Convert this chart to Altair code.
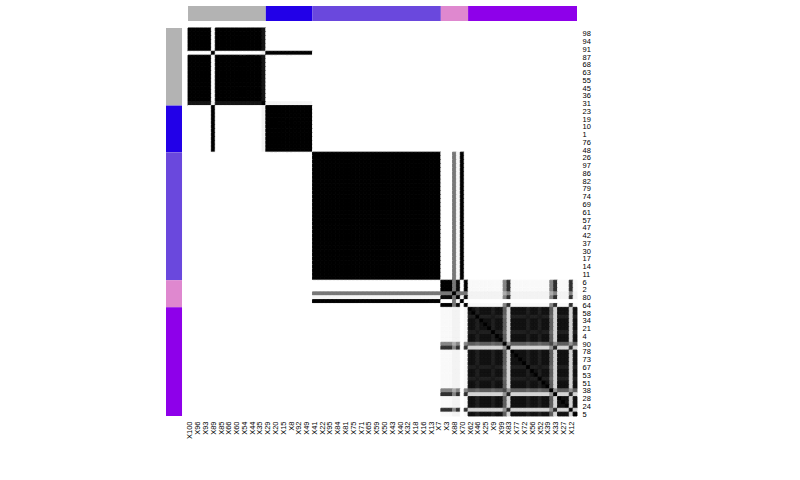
import json
import altair as alt
import pandas as pd

# variable order (rows top->bottom, columns left->right)
order = [100, 98, 96, 94, 93, 91, 89, 87, 85, 68, 66, 63, 60, 55, 54, 45, 44, 36, 35, 31,
         29, 23, 20, 19, 15, 10, 8, 1, 92, 76, 49, 48,
         41, 26, 22, 97, 95, 86, 84, 82, 81, 79, 75, 74, 71, 69, 65, 61, 59, 57, 50, 47,
         43, 42, 40, 37, 32, 30, 18, 17, 16, 14, 13, 11, 7,
         6, 3, 2, 88, 80, 70, 64,
         62, 58, 46, 34, 25, 21, 9, 4, 99, 90, 83, 78, 77, 73, 72, 67, 56, 53, 52, 51,
         39, 38, 33, 28, 27, 24, 12, 5]

# annotation groups (bars on top and left)
group_sizes = [20, 12, 33, 7, 28]
group_colors = ["#b3b3b3", "#2200e8", "#6a48dd", "#df88cf", "#8e00ea"]

# similarity structure type of each variable, in display order
types = (["G"] * 6 + ["B"] + ["G"] * 12 + ["G2"] + ["B"] * 12 + ["P"] * 33
         + ["Q", "Q", "Q", "Q8", "Q9", "P", "Q"]
         + ["V", "V", "Vw", "V", "V", "V", "Vw", "V", "V", "VG", "VX", "V", "V", "V",
            "V", "Vw", "V", "V", "Vw", "V", "V", "VG", "VX", "V", "V", "V", "VX", "V"])

# similarity for pairs of types (off-diagonal cells)
pair_values = {
    ("G", "G"): 1.0, ("G", "G2"): 0.93, ("B", "G2"): 0.04, ("B", "B"): 1.0,
    ("P", "P"): 1.0, ("P", "Q8"): 0.5, ("P", "Q9"): 0.03,
    ("Q", "Q"): 1.0, ("Q", "Q9"): 0.97, ("Q", "Q8"): 0.5, ("Q8", "Q9"): 0.5,
    ("Q", "V"): 0.02, ("Q9", "V"): 0.04, ("Q8", "V"): 0.04,
    ("Q", "Vw"): 0.02, ("Q9", "Vw"): 0.04, ("Q8", "Vw"): 0.04,
    ("Q", "VG"): 0.45, ("Q9", "VG"): 0.45, ("Q8", "VG"): 0.3,
    ("Q", "VX"): 0.8, ("Q9", "VX"): 0.8, ("Q8", "VX"): 0.45,
    ("V", "V"): 0.95, ("V", "Vw"): 0.88, ("Vw", "Vw"): 0.92,
    ("V", "VG"): 0.6, ("Vw", "VG"): 0.55, ("VG", "VG"): 0.7,
    ("V", "VX"): 0.15, ("Vw", "VX"): 0.15, ("VG", "VX"): 0.4, ("VX", "VX"): 0.85,
}

n = len(order)
rows = []
for i in range(n):
    for j in range(n):
        if i == j:
            v = 1.0
        else:
            a, b = types[i], types[j]
            v = pair_values.get((a, b), pair_values.get((b, a), 0.0))
        rows.append({"c": j, "c2": j + 1, "r": i, "r2": i + 1, "v": v})
cells = pd.DataFrame(rows)

bars = []
start = 0
for size, col in zip(group_sizes, group_colors):
    bars.append({"s": start, "e": start + size, "color": col})
    start += size
bars = pd.DataFrame(bars)

LO = -5.66
BAR_END_ROW = -1.54
BAR_END_COL = -1.8
dom = [LO, 100]

col_labels = ["X%d" % k for k in order]
row_labels = ["%d" % k for k in order]

xscale = alt.Scale(domain=dom, nice=False, zero=False)
yscale = alt.Scale(domain=dom, nice=False, zero=False, reverse=True)

xaxis = alt.Axis(
    orient="bottom", title=None, values=[k + 0.5 for k in range(0, n, 2)],
    labelExpr=json.dumps(col_labels) + "[floor(datum.value)]",
    labelAngle=270, labelPadding=5, labelOverlap=False, labelFlush=False,
    labelBound=False, tickCount=50,
    domain=False, ticks=False, grid=False)
yaxis = alt.Axis(
    orient="right", title=None, values=[k + 0.5 for k in range(1, n, 2)],
    labelExpr=json.dumps(row_labels) + "[floor(datum.value)]",
    labelPadding=5, labelOverlap=False, labelFlush=False,
    labelBound=False, tickCount=50,
    domain=False, ticks=False, grid=False)

gray = alt.Scale(domain=[0, 1], range=["#ffffff", "#000000"])

heat = alt.Chart(cells).mark_rect(strokeWidth=0.9).encode(
    x=alt.X("c:Q", scale=xscale, axis=xaxis),
    x2="c2:Q",
    y=alt.Y("r:Q", scale=yscale, axis=yaxis),
    y2="r2:Q",
    color=alt.Color("v:Q", scale=gray, legend=None),
    stroke=alt.Stroke("v:Q", scale=gray, legend=None),
)

row_bar = alt.Chart(bars).mark_rect().encode(
    x=alt.datum(LO, type="quantitative"),
    x2=alt.datum(BAR_END_ROW),
    y=alt.Y("s:Q", scale=yscale, axis=yaxis),
    y2="e:Q",
    color=alt.Color("color:N", scale=None),
)

col_bar = alt.Chart(bars).mark_rect().encode(
    x=alt.X("s:Q", scale=xscale, axis=xaxis),
    x2="e:Q",
    y=alt.datum(LO, type="quantitative"),
    y2=alt.datum(BAR_END_COL),
    color=alt.Color("color:N", scale=None),
)

chart = alt.layer(heat, row_bar, col_bar).properties(
    width=411, height=410,
    autosize="none",
    padding={"left": 166, "top": 6, "right": 223, "bottom": 64},
).configure_view(stroke=None).configure_axis(
    labelFont="Liberation Sans", labelFontSize=7.5, labelColor="#000000",
    labelOverlap=False
)

chart.save("out.html", embed_options={"renderer": "svg", "actions": False})
